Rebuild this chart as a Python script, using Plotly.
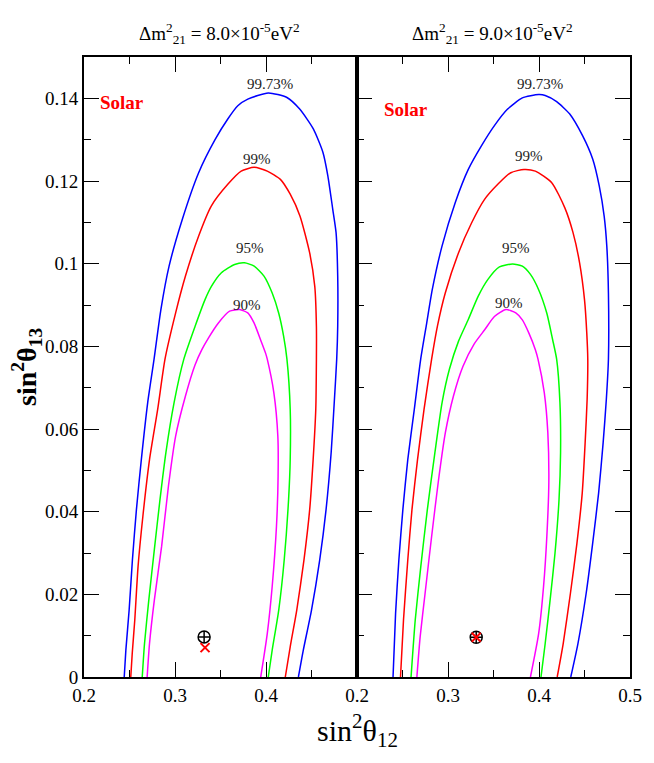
import plotly.graph_objects as go

# sin^2(theta12) / sin^2(theta13) contour points, left panel (dm21^2 = 8.0e-5)
l9973_x = [0.2442, 0.246, 0.2496, 0.2532, 0.2576, 0.263, 0.270, 0.277, 0.2845, 0.2935, 0.308, 0.326, 0.344, 0.358, 0.369, 0.380, 0.4025,
           0.423, 0.437, 0.452, 0.4626, 0.468, 0.4734, 0.477, 0.4788, 0.4788, 0.4777, 0.475, 0.4716, 0.466, 0.459, 0.450, 0.441, 0.4356]
l9973_y = [0.0, 0.0065, 0.0162, 0.0283, 0.0405, 0.0526, 0.0664, 0.0769, 0.0889, 0.0994, 0.1107, 0.122, 0.130, 0.135, 0.1382, 0.1398, 0.1413,
           0.1402, 0.1374, 0.1326, 0.1269, 0.1212, 0.1131, 0.1075, 0.097, 0.0848, 0.0769, 0.0664, 0.0543, 0.0405, 0.0283, 0.0162, 0.0065, 0.0]

l99_x = [0.2514, 0.253, 0.2558, 0.2594, 0.2647, 0.272, 0.281, 0.289, 0.3007, 0.3115, 0.326, 0.340, 0.358, 0.3727, 0.387,
         0.4014, 0.4158, 0.4266, 0.4374, 0.448, 0.4536, 0.4554, 0.4554, 0.4547, 0.4518, 0.448, 0.4417, 0.4338, 0.4266, 0.4212]
l99_y = [0.0, 0.0057, 0.0138, 0.0267, 0.0389, 0.0526, 0.0648, 0.0769, 0.0881, 0.097, 0.1067, 0.114, 0.1192, 0.1224, 0.1233,
         0.1224, 0.1204, 0.1168, 0.1115, 0.1026, 0.0945, 0.0848, 0.0769, 0.0648, 0.0526, 0.0405, 0.0283, 0.0162, 0.0073, 0.0]

l95_x = [0.264, 0.2665, 0.2712, 0.2773, 0.2835, 0.290, 0.299, 0.3097, 0.322, 0.333, 0.340, 0.351, 0.3655, 0.3763,
         0.387, 0.3978, 0.4068, 0.414, 0.4194, 0.423, 0.4266, 0.4266, 0.4248, 0.420, 0.414, 0.4068, 0.4025]
l95_y = [0.0, 0.0081, 0.0186, 0.0308, 0.0429, 0.0543, 0.0664, 0.0769, 0.0848, 0.0913, 0.0945, 0.0978, 0.0998, 0.1002,
         0.0994, 0.097, 0.0929, 0.088, 0.0824, 0.0769, 0.0648, 0.0526, 0.0429, 0.0283, 0.0162, 0.0065, 0.0]

l90_x = [0.2694, 0.272, 0.2773, 0.2853, 0.2928, 0.3007, 0.3115, 0.322, 0.3295, 0.3367, 0.3475, 0.360, 0.3709,
         0.380, 0.387, 0.394, 0.3996, 0.4014, 0.4086, 0.413, 0.4133, 0.4115, 0.4068, 0.4014, 0.3942]
l90_y = [0.0, 0.0081, 0.0186, 0.0316, 0.0462, 0.0583, 0.068, 0.0755, 0.0792, 0.082, 0.0856, 0.0885, 0.0889,
         0.0881, 0.0856, 0.0816, 0.0783, 0.0769, 0.0688, 0.0583, 0.0486, 0.0364, 0.0219, 0.0105, 0.0]

# right panel (dm21^2 = 9.0e-5)
r9973_x = [0.2396, 0.2424, 0.246, 0.2504, 0.2558, 0.263, 0.270, 0.2765, 0.2827, 0.2935, 0.308, 0.3223, 0.3367, 0.351, 0.3655, 0.3817, 0.3996,
           0.4068, 0.4194, 0.4338, 0.448, 0.459, 0.4662, 0.4716, 0.4745, 0.4763, 0.4763, 0.474, 0.4705, 0.4655, 0.459, 0.4518, 0.4428, 0.4349]
r9973_y = [0.0, 0.0154, 0.0283, 0.0405, 0.0526, 0.0648, 0.0769, 0.0855, 0.0937, 0.1043, 0.1148, 0.1228, 0.1285, 0.1334, 0.1374, 0.1401, 0.1409,
           0.1407, 0.1392, 0.1362, 0.1309, 0.1253, 0.1188, 0.1115, 0.1043, 0.0929, 0.0769, 0.0672, 0.0567, 0.0445, 0.0324, 0.0202, 0.0081, 0.0]

r99_x = [0.2478, 0.2511, 0.2558, 0.2604, 0.2665, 0.2737, 0.282, 0.2885, 0.297, 0.3115, 0.326, 0.340, 0.3547, 0.369, 0.3835,
         0.396, 0.414, 0.4284, 0.4374, 0.4446, 0.450, 0.4525, 0.4536, 0.4529, 0.4507, 0.4475, 0.4417, 0.4345, 0.4266, 0.420]
r99_y = [0.0, 0.0138, 0.0283, 0.0405, 0.0526, 0.0648, 0.0769, 0.0850, 0.0929, 0.1026, 0.1099, 0.1155, 0.1192, 0.122, 0.1228,
         0.1224, 0.1196, 0.1135, 0.1075, 0.1002, 0.0913, 0.0832, 0.0769, 0.0672, 0.0567, 0.0445, 0.0324, 0.0202, 0.0081, 0.0]

r95_x = [0.2594, 0.264, 0.2701, 0.2773, 0.2856, 0.2935, 0.3016, 0.3115, 0.3223, 0.3331, 0.3439, 0.3565, 0.3709,
         0.3817, 0.3906, 0.3996, 0.4086, 0.415, 0.4194, 0.423, 0.4237, 0.422, 0.4176, 0.4122, 0.4068, 0.4022]
r95_y = [0.0, 0.0138, 0.0267, 0.0405, 0.0543, 0.0664, 0.0745, 0.0812, 0.0865, 0.0921, 0.0962, 0.0992, 0.0999,
         0.0994, 0.0974, 0.0937, 0.088, 0.0816, 0.0769, 0.0664, 0.0543, 0.0429, 0.030, 0.0186, 0.0081, 0.0]

r90_x = [0.2658, 0.2694, 0.2748, 0.282, 0.2892, 0.2971, 0.306, 0.3165, 0.3285, 0.3403, 0.351, 0.3637,
         0.3745, 0.3817, 0.3889, 0.396, 0.3989, 0.4058, 0.4097, 0.4108, 0.4086, 0.405, 0.3996, 0.3906]
r90_y = [0.0, 0.0097, 0.0202, 0.034, 0.047, 0.0591, 0.0680, 0.0752, 0.0805, 0.084, 0.0872, 0.0889,
         0.0881, 0.0864, 0.0832, 0.0792, 0.0769, 0.0688, 0.0591, 0.047, 0.034, 0.0219, 0.0105, 0.0]

levels = ["99.73%", "99%", "95%", "90%"]
colors = ["#0000ff", "#ff0000", "#00ff00", "#ff00ff"]
left_label_x = [0.404, 0.3906, 0.3824, 0.3788]
left_label_y = [0.1435, 0.1254, 0.1038, 0.0901]
right_label_x = [0.4014, 0.3889, 0.3752, 0.3666]
right_label_y = [0.1435, 0.1261, 0.1038, 0.0906]

# best fit points: black (circle+cross), red (x)
left_bf = (0.332, 0.0097)
left_red = (0.333, 0.0071)
right_bf = (0.331, 0.0096)
right_red = (0.331, 0.0096)

panel_titles = ["Δm<sup>2</sup><sub>21</sub> = 8.0×10<sup>-5</sup>eV<sup>2</sup>",
                "Δm<sup>2</sup><sub>21</sub> = 9.0×10<sup>-5</sup>eV<sup>2</sup>"]

FONT = "Liberation Serif, Times New Roman, DejaVu Serif, serif"

fig = go.Figure()

left_curves = [(l9973_x, l9973_y), (l99_x, l99_y), (l95_x, l95_y), (l90_x, l90_y)]
right_curves = [(r9973_x, r9973_y), (r99_x, r99_y), (r95_x, r95_y), (r90_x, r90_y)]

for (cx, cy), col in zip(left_curves, colors):
    fig.add_trace(go.Scatter(x=cx, y=cy, mode="lines", line=dict(color=col, width=1.5, shape="spline", smoothing=0.6),
                             xaxis="x", yaxis="y", showlegend=False))
for (cx, cy), col in zip(right_curves, colors):
    fig.add_trace(go.Scatter(x=cx, y=cy, mode="lines", line=dict(color=col, width=1.5, shape="spline", smoothing=0.6),
                             xaxis="x2", yaxis="y2", showlegend=False))

# markers
for xa, ya, bf, rd in [("x", "y", left_bf, left_red), ("x2", "y2", right_bf, right_red)]:
    fig.add_trace(go.Scatter(x=[bf[0]], y=[bf[1]], mode="markers", xaxis=xa, yaxis=ya,
                             marker=dict(symbol="circle-cross-open", size=12, color="black",
                                         line=dict(color="black", width=1.5)),
                             showlegend=False))
    fig.add_trace(go.Scatter(x=[rd[0]], y=[rd[1]], mode="markers", xaxis=xa, yaxis=ya,
                             marker=dict(symbol="x-thin-open", size=9, color="red",
                                         line=dict(color="red", width=2)),
                             showlegend=False))

annotations = []
for xr, yr, lx, ly in [("x", "y", left_label_x, left_label_y), ("x2", "y2", right_label_x, right_label_y)]:
    for txt, tx, ty in zip(levels, lx, ly):
        annotations.append(dict(x=tx, y=ty, xref=xr, yref=yr, text=txt, showarrow=False,
                                font=dict(family=FONT, size=15, color="#222222")))

annotations.append(dict(x=0.2414, y=0.139, xref="x", yref="y", text="<b>Solar</b>", showarrow=False,
                        font=dict(family=FONT, size=19, color="red")))
annotations.append(dict(x=0.254, y=0.1372, xref="x2", yref="y2", text="<b>Solar</b>", showarrow=False,
                        font=dict(family=FONT, size=19, color="red")))

# panel titles
annotations.append(dict(x=0.249, y=1, xref="paper", yref="paper", xanchor="center", yanchor="bottom", yshift=8,
                        text=panel_titles[0], showarrow=False, font=dict(family=FONT, size=19, color="black")))
annotations.append(dict(x=0.749, y=1, xref="paper", yref="paper", xanchor="center", yanchor="bottom", yshift=8,
                        text=panel_titles[1], showarrow=False, font=dict(family=FONT, size=19, color="black")))

# axis titles
annotations.append(dict(x=0.5, y=0, xref="paper", yref="paper", xanchor="center", yanchor="top", yshift=-30,
                        text="sin<sup>2</sup>θ<sub>12</sub>", showarrow=False,
                        font=dict(family=FONT, size=30, color="black")))
annotations.append(dict(x=0, y=0.5, xref="paper", yref="paper", xanchor="center", yanchor="middle",
                        xshift=-58, yshift=0,
                        text="<b>sin<sup>2</sup>θ<sub>13</sub></b>", textangle=-90, showarrow=False,
                        font=dict(family=FONT, size=28, color="black")))

x_major = [0.2, 0.3, 0.4, 0.5]
x_minor = [0.25, 0.35, 0.45]
y_major = [0.0, 0.02, 0.04, 0.06, 0.08, 0.10, 0.12, 0.14]
y_major_text = ["0", "0.02", "0.04", "0.06", "0.08", "0.1", "0.12", "0.14"]
y_minor = [0.01, 0.03, 0.05, 0.07, 0.09, 0.11, 0.13]

tickfont = dict(family=FONT, size=19, color="black")
split = 0.5

xcommon = dict(range=[0.2, 0.5], showgrid=False, zeroline=False, showline=True, linecolor="black",
               linewidth=2, ticks="inside", ticklen=15, tickwidth=1.2, tickcolor="black",
               mirror="ticks", tickvals=x_major, tickfont=tickfont, ticklabeloverflow="allow",
               minor=dict(tickvals=x_minor, ticks="inside", ticklen=7, tickwidth=1.2, tickcolor="black"))
ycommon = dict(range=[0, 0.15], showgrid=False, zeroline=False, showline=True, linecolor="black",
               linewidth=2, ticks="inside", ticklen=15, tickwidth=1.2, tickcolor="black",
               tickvals=y_major, ticktext=y_major_text, tickfont=tickfont,
               minor=dict(tickvals=y_minor, ticks="inside", ticklen=7, tickwidth=1.2, tickcolor="black"))

fig.update_layout(
    width=654, height=763, autosize=False,
    margin=dict(l=84, r=14, t=57, b=86),
    plot_bgcolor="white", paper_bgcolor="white",
    font=dict(family=FONT, color="black"),
    xaxis=dict(xcommon, domain=[0, split], anchor="y", ticktext=["0.2", "0.3", "0.4", ""]),
    xaxis2=dict(xcommon, domain=[split, 1], anchor="y2", ticktext=["0.2", "0.3", "0.4", "0.5"]),
    yaxis=dict(ycommon, anchor="x", mirror=True),
    yaxis2=dict(ycommon, anchor="x2", mirror="ticks", showticklabels=False),
    annotations=annotations,
)

fig.write_html("out.html", config=dict(responsive=False, displayModeBar=False),
               post_script="document.body.style.margin='0';document.body.style.overflow='hidden';")
